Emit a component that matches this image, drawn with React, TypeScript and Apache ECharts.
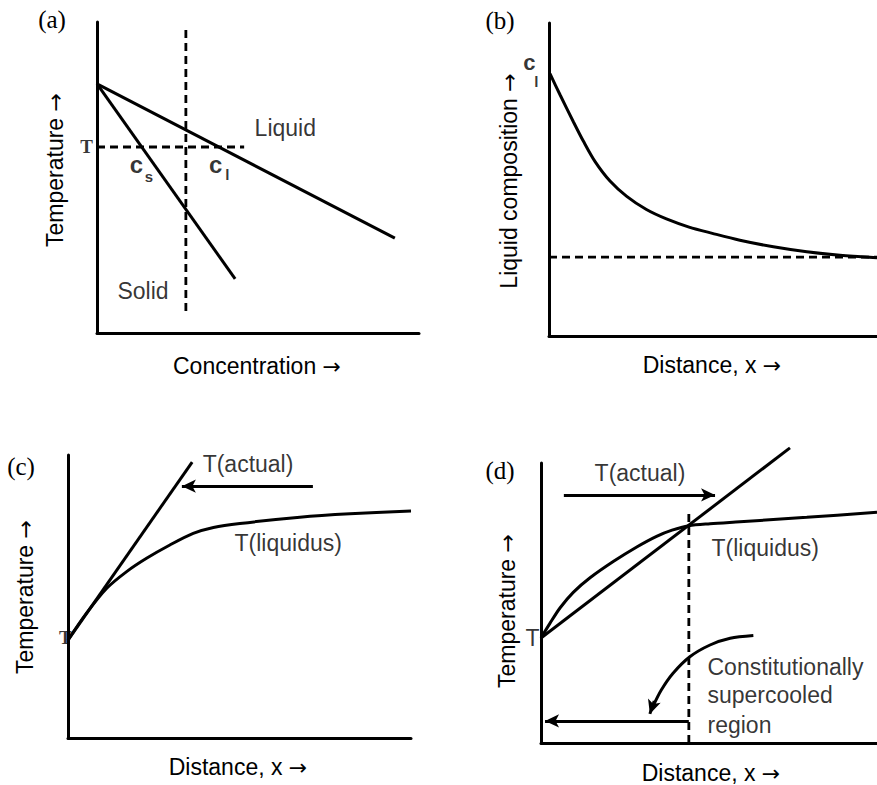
import React, { useEffect, useRef } from 'react';
import * as echarts from 'echarts';

// ---------- panel (a): phase diagram ----------
const aLiquidus = [[0, 80.1], [92.5, 30.5]];
const aSolidus = [[0, 80.1], [42.9, 17.4]];
const aCompDash = [[27.6, 7.1], [27.6, 97.4]];
const aTempDash = [[0, 59.8], [45.7, 59.8]];

// ---------- panel (b): liquid composition vs distance ----------
const bCurve = [[0.3, 83.8], [3.4, 77.0], [7.5, 68.3], [10.5, 62.2], [14.0, 55.8], [18.6, 49.5], [23.7, 44.6], [29.7, 40.4], [35.8, 37.4], [42.7, 34.8], [49.8, 32.8], [58.2, 30.6], [68.4, 28.5], [78.6, 26.9], [88.7, 25.8], [100, 25.0]];
const bBulkDash = [[0, 25.2], [100, 25.2]];

// ---------- panel (c): stable interface ----------
const cActual = [[0, 34.6], [36.2, 97.5]];
const cLiquidus = [[0, 34.6], [5.4, 44.1], [11.3, 52.9], [17.1, 58.8], [22.9, 63.5], [29.7, 68.2], [36.5, 72.3], [42.4, 74.4], [50.1, 75.8], [67.6, 78.0], [82.2, 79.2], [100, 80.2]];
const cArrow = [[71.4, 89], [33.2, 89]];

// ---------- panel (d): constitutional supercooling ----------
const dActual = [[0, 37.5], [74.1, 105.4]];
const dLiquidus = [[0, 37.5], [2.7, 42.8], [5.7, 48.3], [9.6, 53.8], [14.6, 59.0], [21.5, 64.8], [28.5, 70.0], [34.4, 73.8], [39.0, 76.0], [44.0, 77.6], [50.3, 78.3], [59.2, 79.0], [79.1, 80.6], [100, 82.4]];
const dCritDash = [[44.0, 0], [44.0, 83.2]];
const dActualArrow = [[6.8, 88.6], [51.8, 88.6]];
const dRegionArrow = [[44.0, 7.9], [1.2, 7.9]];
const dCurvedArrow = [[63.2, 38.4], [56.3, 37.4], [50.3, 35.0], [44.3, 30.8], [39.3, 24.9], [35.8, 18.9], [33.3, 13.0]];
const dCurvedArrowHead = [[33.7, 15.0], [32.4, 10.4]];

// ---------- text annotations: [text, x, y, kind] ----------
const aLabels = [
  ['Liquid', 49.1, 65.9, 'word'],
  ['Solid', 6.5, 13.2, 'word'],
  ['T', -3.1, 59.8, 'serifT'],
  ['c', 12.4, 54.0, 'sym'],
  ['s', 16.3, 50.2, 'sub'],
  ['c', 37.0, 54.0, 'sym'],
  ['l', 40.6, 50.8, 'sub'],
];
const bLabels = [
  ['c', -5.8, 83.7, 'symBottom'],
  ['l', -3.7, 83.7, 'subTop'],
];
const cLabels = [
  ['T(actual)', 39.4, 96.5, 'word'],
  ['T(liquidus)', 48.7, 68.9, 'word'],
  ['T', -0.6, 35.3, 'serifT'],
];
const dLabels = [
  ['T(actual)', 16.1, 96.4, 'word'],
  ['T(liquidus)', 50.9, 69.6, 'word'],
  ['T', -2.4, 37.5, 'sansT'],
  ['Constitutionally', 49.7, 26.8, 'word'],
  ['supercooled', 49.7, 17.1, 'word'],
  ['region', 49.7, 6.4, 'word'],
];

const panelLetters = ['(a)', '(b)', '(c)', '(d)'];
const xTitles = ['Concentration', 'Distance, x', 'Distance, x', 'Distance, x'];
const yTitles = ['Temperature', 'Liquid composition', 'Temperature', 'Temperature'];

const SANS = '"Liberation Sans", Arial, Helvetica, sans-serif';
const SERIF = '"Liberation Serif", "Times New Roman", serif';
const ARROWFONT = '"DejaVu Sans", sans-serif';

const grids = [
  { left: 97, top: 22, width: 322, height: 311 },
  { left: 549, top: 23, width: 328, height: 313 },
  { left: 68, top: 455, width: 343, height: 283 },
  { left: 541, top: 463, width: 336, height: 280 },
];
const letterPos = [[52, 19], [500, 20], [21, 466], [500, 470]];
const xTitlePos = [[257, 366], [712, 365], [238, 767], [711, 773]];
const yTitlePos = [[55, 170], [509, 181], [25, 597], [507, 611]];

function lineSeries(data: number[][], g: number, extra: any = {}) {
  return {
    type: 'line',
    xAxisIndex: g,
    yAxisIndex: g,
    data,
    symbol: 'none',
    showSymbol: false,
    silent: true,
    clip: false,
    lineStyle: { color: '#000', width: 3, ...(extra.lineStyle || {}) },
    smooth: extra.smooth || false,
    z: 3,
  };
}

function dashSeries(data: number[][], g: number) {
  return lineSeries(data, g, { lineStyle: { width: 2.8, type: [8, 5] } });
}

function arrowSeries(pairs: number[][], g: number) {
  return {
    type: 'line',
    xAxisIndex: g,
    yAxisIndex: g,
    data: [],
    silent: true,
    markLine: {
      silent: true,
      symbol: ['none', 'arrow'],
      symbolSize: [10, 14],
      label: { show: false },
      lineStyle: { color: '#000', width: 3, type: 'solid' },
      data: [[{ coord: pairs[0] }, { coord: pairs[1] }]],
      animation: false,
    },
  };
}

function labelStyle(kind: string) {
  switch (kind) {
    case 'serifT':
      return { fontFamily: SERIF, fontWeight: 'bold', fontSize: 19, align: 'center', verticalAlign: 'middle' };
    case 'sansT':
      return { fontFamily: SANS, fontSize: 23, align: 'center', verticalAlign: 'middle' };
    case 'sym':
      return { fontFamily: SANS, fontWeight: 'bold', fontSize: 24, align: 'center', verticalAlign: 'middle' };
    case 'sub':
      return { fontFamily: SANS, fontWeight: 'bold', fontSize: 15, align: 'center', verticalAlign: 'middle' };
    case 'symBottom':
      return { fontFamily: SANS, fontWeight: 'bold', fontSize: 22, align: 'center', verticalAlign: 'bottom', lineHeight: 22 };
    case 'subTop':
      return { fontFamily: SANS, fontWeight: 'bold', fontSize: 15, align: 'center', verticalAlign: 'top', lineHeight: 15 };
    default:
      return { fontFamily: SANS, fontSize: 23, align: 'left', verticalAlign: 'middle' };
  }
}

function labelSeries(items: any[], g: number) {
  return {
    type: 'scatter',
    xAxisIndex: g,
    yAxisIndex: g,
    symbol: 'circle',
    symbolSize: 1,
    clip: false,
    silent: true,
    itemStyle: { color: 'rgba(0,0,0,0)' },
    data: items.map((it) => ({
      value: [it[1], it[2]],
      label: {
        show: true,
        position: [0, 0],
        formatter: it[0],
        color: '#000',
        ...labelStyle(it[3]),
      },
    })),
    z: 5,
  };
}

function titleText(t: string, x: number, y: number, rotation = 0) {
  return {
    type: 'text',
    x,
    y,
    rotation,
    silent: true,
    style: {
      text: '{t|' + t + ' }{a|→}',
      fill: '#000',
      align: 'center',
      verticalAlign: 'middle',
      textAlign: 'center',
      textVerticalAlign: 'middle',
      rich: {
        t: { fontFamily: SANS, fontSize: 23, fill: '#000', color: '#000' },
        a: { fontFamily: ARROWFONT, fontSize: 22, fill: '#000', color: '#000' },
      },
    },
  };
}

export default function App() {
  const ref = useRef<HTMLDivElement>(null);
  useEffect(() => {
    if (!ref.current) return;
    const chart = echarts.init(ref.current, null, { renderer: 'svg' });
    const axisBase = {
      type: 'value',
      min: 0,
      max: 100,
      axisLine: { show: true, onZero: false, lineStyle: { color: '#000', width: 3 } },
      axisTick: { show: false },
      axisLabel: { show: false },
      splitLine: { show: false },
    };
    const graphic: any[] = [];
    panelLetters.forEach((t, i) => {
      graphic.push({
        type: 'text',
        x: letterPos[i][0],
        y: letterPos[i][1],
        silent: true,
        style: { text: t, fontFamily: SERIF, fontSize: 25, fill: '#000', align: 'center', verticalAlign: 'middle', textAlign: 'center', textVerticalAlign: 'middle' },
      });
    });
    xTitles.forEach((t, i) => graphic.push(titleText(t, xTitlePos[i][0], xTitlePos[i][1])));
    yTitles.forEach((t, i) => graphic.push(titleText(t, yTitlePos[i][0], yTitlePos[i][1], Math.PI / 2)));

    const option: any = {
      animation: false,
      backgroundColor: '#fff',
      grid: grids.map((g) => ({ ...g })),
      xAxis: grids.map((_, i) => ({ ...axisBase, gridIndex: i })),
      yAxis: grids.map((_, i) => ({ ...axisBase, gridIndex: i })),
      graphic,
      series: [
        // (a)
        lineSeries(aLiquidus, 0),
        lineSeries(aSolidus, 0),
        dashSeries(aCompDash, 0),
        dashSeries(aTempDash, 0),
        labelSeries(aLabels, 0),
        // (b)
        lineSeries(bCurve, 1, { smooth: 0.3 }),
        dashSeries(bBulkDash, 1),
        labelSeries(bLabels, 1),
        // (c)
        lineSeries(cActual, 2),
        lineSeries(cLiquidus, 2, { smooth: 0.3 }),
        arrowSeries(cArrow, 2),
        labelSeries(cLabels, 2),
        // (d)
        lineSeries(dActual, 3),
        lineSeries(dLiquidus, 3, { smooth: 0.3 }),
        dashSeries(dCritDash, 3),
        arrowSeries(dActualArrow, 3),
        arrowSeries(dRegionArrow, 3),
        lineSeries(dCurvedArrow, 3, { smooth: 0.3 }),
        arrowSeries(dCurvedArrowHead, 3),
        labelSeries(dLabels, 3),
      ],
    };
    chart.setOption(option);
    return () => chart.dispose();
  }, []);
  return (
    <div
      ref={ref}
      style={{ position: 'fixed', left: 0, top: 0, width: 877, height: 785, background: '#fff' }}
    />
  );
}
